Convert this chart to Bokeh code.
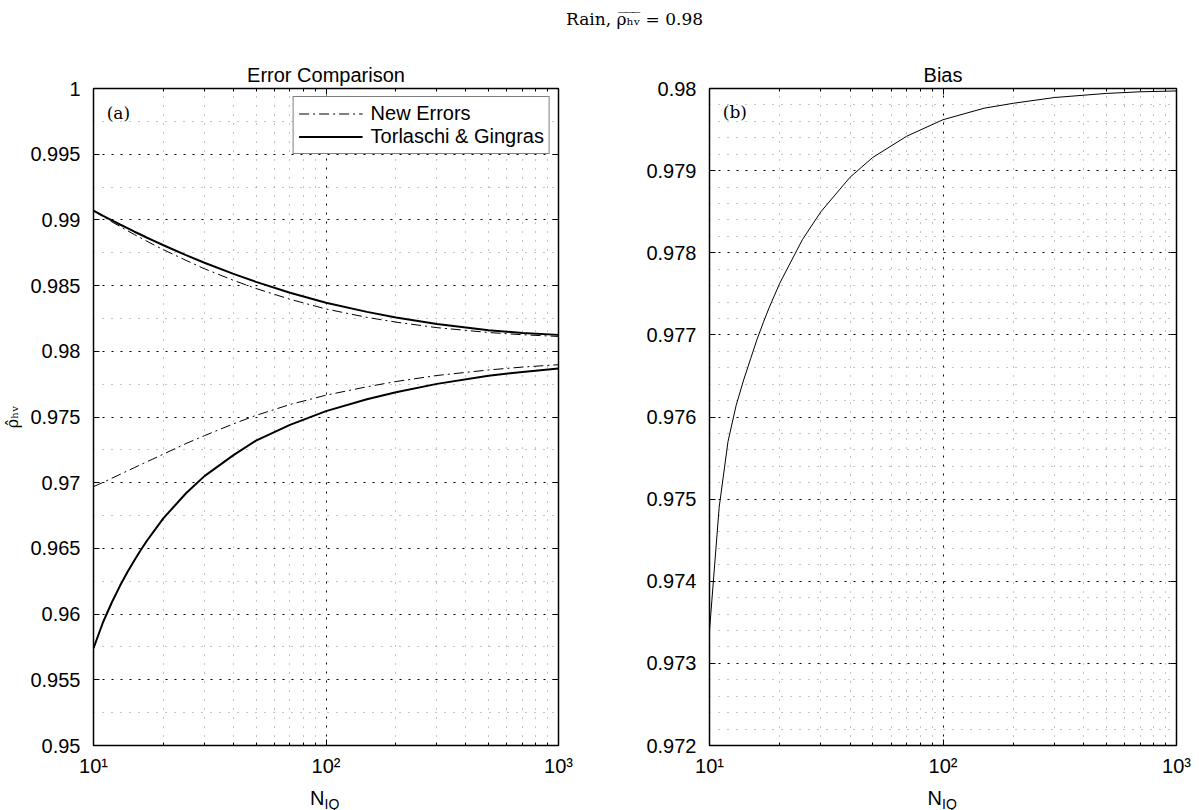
import numpy as np
from bokeh.plotting import figure
from bokeh.layouts import column, row
from bokeh.models import FixedTicker, LogAxis, LinearAxis, Label
from bokeh.embed import file_html
from bokeh.resources import INLINE

# ---- data -------------------------------------------------------------
n_iq = [10, 11, 12, 13, 14, 15, 16, 17, 18, 20, 25, 30, 40, 50, 70, 100,
        150, 200, 300, 500, 700, 1000]

# Torlaschi & Gingras error bounds
tg_upper = [0.9907, 0.99031, 0.98996, 0.98965, 0.98937, 0.98910, 0.98887,
            0.98864, 0.98844, 0.98807, 0.98732, 0.98674, 0.98589, 0.98528,
            0.98446, 0.98370, 0.98300, 0.98257, 0.98207, 0.98160, 0.98139,
            0.98125]
tg_lower = [0.9574, 0.9594, 0.9609, 0.96215, 0.9632, 0.9641, 0.9649, 0.9656,
            0.9662, 0.9673, 0.9692, 0.9705, 0.9721, 0.9732, 0.9744, 0.97545,
            0.97635, 0.97688, 0.97752, 0.97814, 0.97843, 0.97869]

# new error bounds
new_upper = [0.9907, 0.99025, 0.98985, 0.98950, 0.98918, 0.98888, 0.98862,
             0.98837, 0.98814, 0.98773, 0.98692, 0.98628, 0.98540, 0.98478,
             0.98396, 0.98322, 0.98258, 0.98222, 0.98180, 0.98143, 0.98126,
             0.98113]
new_lower = [0.9697, 0.97003, 0.97034, 0.97063, 0.9709, 0.97115, 0.97138,
             0.9716, 0.9718, 0.97218, 0.97298, 0.97358, 0.97448, 0.97512,
             0.97595, 0.97666, 0.97730, 0.97770, 0.97816, 0.97858, 0.97880,
             0.97898]

# mean of the estimator
bias = [0.9734, 0.9749, 0.9757, 0.97614, 0.97645, 0.97671, 0.97695, 0.97715,
        0.97733, 0.97763, 0.97816, 0.9785, 0.97892, 0.97916, 0.97942, 0.97962,
        0.97976, 0.97982, 0.97989, 0.97994, 0.97996, 0.97997]

x_ticks = [10, 100, 1000]
x_labels = ["10¹", "10²", "10³"]
x_minor = [20, 30, 40, 50, 60, 70, 80, 90, 200, 300, 400, 500, 600, 700, 800, 900]

left_yticks = [0.95, 0.955, 0.96, 0.965, 0.97, 0.975, 0.98, 0.985, 0.99, 0.995, 1.0]
left_ylabels = ["0.95", "0.955", "0.96", "0.965", "0.97", "0.975", "0.98",
                "0.985", "0.99", "0.995", "1"]
right_yticks = [0.972, 0.973, 0.974, 0.975, 0.976, 0.977, 0.978, 0.979, 0.98]
right_ylabels = ["0.972", "0.973", "0.974", "0.975", "0.976", "0.977",
                 "0.978", "0.979", "0.98"]

# ---- page layout ------------------------------------------------------
SANS = "Liberation Sans"
SERIF = "DejaVu Serif"
FS = "20px"
W = 1199
HEAD_H = 40
FOOT_H = 30
PANEL_H = 810 - HEAD_H - FOOT_H
LEFT_W = 640
RIGHT_W = W - LEFT_W
# frame edges on the page
L_FRAME = (92, 558)
R_FRAME = (709, 1176)
FRAME_TOP, FRAME_BOTTOM = 88, 745


def minor_between(ticks, parts):
    out = []
    for a, b in zip(ticks[:-1], ticks[1:]):
        step = (b - a) / parts
        out += [a + k * step for k in range(1, parts)]
    return out


def make_panel(title, yticks, ylabels, yparts, width, border_left, border_right):
    p = figure(width=width, height=PANEL_H, x_axis_type="log",
               x_range=(10, 1000), y_range=(yticks[0], yticks[-1]),
               output_backend="svg", toolbar_location=None,
               min_border_left=border_left, min_border_right=border_right,
               min_border_top=FRAME_TOP - HEAD_H,
               min_border_bottom=HEAD_H + PANEL_H - FRAME_BOTTOM,
               background_fill_color="white", border_fill_color="white")
    p.title.text = title
    p.title.align = "center"
    p.title.text_font = SANS
    p.title.text_font_size = FS
    p.title.text_font_style = "normal"
    p.title.text_color = "black"
    p.title.standoff = 6

    xt = FixedTicker(ticks=x_ticks, minor_ticks=x_minor)
    yt = FixedTicker(ticks=yticks, minor_ticks=minor_between(yticks, yparts))

    # mirrored axes on top and right carry ticks only
    top_ax = LogAxis()
    right_ax = LinearAxis()
    p.add_layout(top_ax, "above")
    p.add_layout(right_ax, "right")

    for ax in p.xaxis:
        ax.ticker = xt
        ax.major_label_overrides = dict(zip(x_ticks, x_labels))
        ax.minor_tick_in = 3
        ax.minor_tick_out = 0
        ax.minor_tick_line_color = "black"
        ax.major_label_standoff = 9
    for ax in p.yaxis:
        ax.ticker = yt
        ax.major_label_overrides = dict(zip(yticks, ylabels))
        ax.minor_tick_line_color = None
        ax.major_label_standoff = 9
    for ax in p.xaxis + p.yaxis:
        ax.major_tick_in = 6
        ax.major_tick_out = 0
        ax.axis_line_color = "black"
        ax.major_tick_line_color = "black"
        ax.major_label_text_font = SANS
        ax.major_label_text_font_size = FS
        ax.major_label_text_color = "black"
    for ax in (top_ax, right_ax):
        ax.major_label_text_color = None
        ax.major_label_text_font_size = "1px"
        ax.major_label_standoff = 0

    p.xgrid.ticker = xt
    p.ygrid.ticker = yt
    for g in (p.xgrid, p.ygrid):
        g.grid_line_color = "black"
        g.grid_line_width = 1
        g.grid_line_dash = "2 7"
        g.minor_grid_line_color = "#8a8a8a"
        g.minor_grid_line_width = 1
        g.minor_grid_line_dash = "1 8"

    p.outline_line_color = "black"
    p.outline_line_width = 1.5
    return p


left = make_panel("Error Comparison", left_yticks, left_ylabels, 2,
                  LEFT_W, L_FRAME[0], LEFT_W - L_FRAME[1])
right = make_panel("Bias", right_yticks, right_ylabels, 5,
                   RIGHT_W, R_FRAME[0] - LEFT_W, W - R_FRAME[1])

ylab = left.yaxis[0]
ylab.axis_label = "ρ̂ₕᵥ"
ylab.axis_label_text_font = SERIF
ylab.axis_label_text_font_size = "16px"
ylab.axis_label_text_font_style = "normal"
ylab.axis_label_text_color = "black"
ylab.axis_label_standoff = 5

# error curves
DASHDOT = "10 4 2 4"
left.line(n_iq, new_upper, line_color="black", line_width=1, line_dash=DASHDOT,
          legend_label="New Errors")
left.line(n_iq, tg_upper, line_color="black", line_width=2,
          legend_label="Torlaschi & Gingras")
left.line(n_iq, new_lower, line_color="black", line_width=1, line_dash=DASHDOT)
left.line(n_iq, tg_lower, line_color="black", line_width=2)

lg = left.legend[0]
lg.location = "top_right"
lg.border_line_color = "black"
lg.border_line_width = 1.5
lg.background_fill_color = "white"
lg.background_fill_alpha = 1
lg.label_text_font = SANS
lg.label_text_font_size = FS
lg.label_text_color = "black"
lg.glyph_width = 64
lg.glyph_height = 23
lg.label_height = 23
lg.label_standoff = 8
lg.padding = 5
lg.spacing = 0
lg.margin = 8

# bias curve
right.line(n_iq, bias, line_color="black", line_width=1)

left.add_layout(Label(x=11.4, y=0.99817, text="(a)", text_font=SERIF,
                      text_font_size="17px", text_color="black",
                      text_baseline="middle"))
right.add_layout(Label(x=11.4, y=0.97971, text="(b)", text_font=SERIF,
                       text_font_size="17px", text_color="black",
                       text_baseline="middle"))

# figure heading, centred between the two panels
head = figure(width=W, height=HEAD_H, x_range=(0, W), y_range=(HEAD_H, 0),
              output_backend="svg", toolbar_location=None,
              x_axis_location=None, y_axis_location=None, min_border=0,
              outline_line_color=None)
head.grid.visible = False
head.add_layout(Label(x=(L_FRAME[0] + R_FRAME[1]) / 2, y=18,
                      text="Rain, ρ̅ₕ̅ᵥ̅ = 0.98", text_align="center",
                      text_baseline="middle", text_font=SERIF,
                      text_font_size="17px", text_color="black"))

# x axis titles, N with subscript IQ under each panel
foot = figure(width=W, height=FOOT_H, x_range=(0, W), y_range=(FOOT_H, 0),
              output_backend="svg", toolbar_location=None,
              x_axis_location=None, y_axis_location=None, min_border=0,
              outline_line_color=None)
foot.grid.visible = False
for fr in (L_FRAME, R_FRAME):
    cx = (fr[0] + fr[1]) / 2 - 1
    foot.add_layout(Label(x=cx, y=17, text="N", text_align="right",
                          text_baseline="alphabetic", text_font=SANS,
                          text_font_size=FS, text_color="black"))
    foot.add_layout(Label(x=cx, y=23, text="IQ", text_align="left",
                          text_baseline="alphabetic", text_font=SANS,
                          text_font_size="14px", text_color="black"))

layout = column(head, row(left, right), foot)

with open("out.html", "w") as f:
    f.write(file_html(layout, INLINE))
